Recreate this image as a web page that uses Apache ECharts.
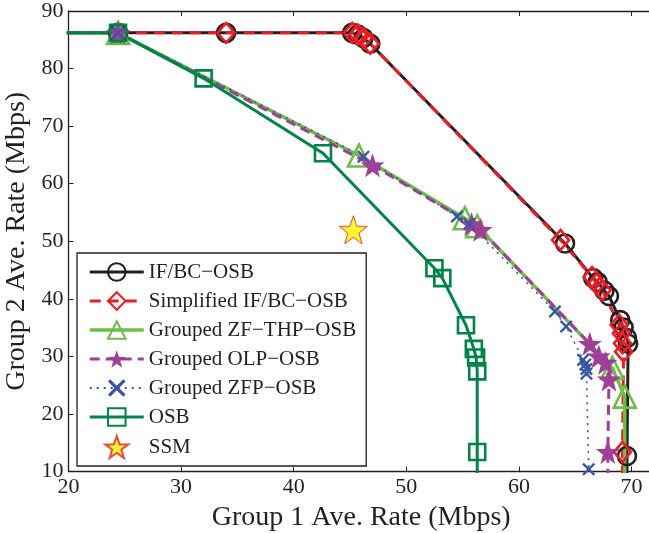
<!DOCTYPE html>
<html>
<head>
<meta charset="utf-8">
<script src="https://cdn.jsdelivr.net/npm/echarts@6/dist/echarts.min.js"></script>
<style>
html,body{margin:0;padding:0;background:#fff;}
#c{width:649px;height:533px;}
</style>
</head>
<body>
<div id="c"></div>
<script>
// ---- data ----
const seriesNames = ['IF/BC\u2212OSB', 'Simplified IF/BC\u2212OSB', 'Grouped ZF\u2212THP\u2212OSB', 'Grouped OLP\u2212OSB', 'Grouped ZFP\u2212OSB', 'OSB', 'SSM'];

const ifbcX = [10, 24.4, 34.0, 45.2, 45.7, 46.2, 46.8, 64.1, 66.6, 67.0, 67.6, 68.0, 69.0, 69.3, 69.6, 69.7, 69.6, 69.6];
const ifbcY = [86.2, 86.2, 86.2, 86.2, 85.9, 85.3, 84.3, 49.6, 43.6, 42.9, 41.4, 40.5, 36.3, 35.0, 33.2, 32.2, 12.7, 0];

const simpX = [10, 24.4, 34.0, 45.2, 45.7, 46.2, 46.8, 63.7, 66.5, 66.9, 67.4, 68.9, 69.1, 69.2, 69.3, 69.2, 69.2];
const simpY = [86.2, 86.2, 86.2, 86.2, 85.9, 85.3, 84.3, 50.2, 43.8, 42.6, 41.5, 35.5, 34.0, 32.3, 30.8, 13.4, 0];

const zfthpX = [10, 24.4, 45.8, 55.2, 56.3, 68.3, 69.4, 69.4];
const zfthpY = [86.2, 86.2, 64.9, 54.0, 52.6, 28.0, 23.0, 0];

const olpX = [10, 24.4, 47.0, 55.8, 56.6, 66.3, 67.1, 67.7, 68.0, 67.9, 67.9];
const olpY = [86.2, 86.2, 63.2, 53.0, 52.0, 32.2, 30.0, 28.9, 26.0, 13.4, 0];

const zfpX = [10, 24.4, 46.2, 54.5, 55.6, 63.2, 64.2, 65.7, 65.9, 66.0, 66.0, 66.2];
const zfpY = [86.2, 86.2, 64.7, 54.3, 53.0, 37.8, 35.2, 29.4, 28.6, 27.8, 27.0, 10.4];

const osbX = [10, 24.4, 32.0, 42.6, 52.5, 53.2, 55.3, 56.0, 56.2, 56.3, 56.3, 56.3];
const osbY = [86.2, 86.2, 78.3, 65.3, 45.3, 43.6, 35.4, 31.3, 29.8, 27.4, 13.4, 0];

const ssmX = [45.3];
const ssmY = [52.0];

const xTicks = [20, 30, 40, 50, 60, 70];
const yTicks = [10, 20, 30, 40, 50, 60, 70, 80, 90];

// ---- helpers ----
function pairs(xs, ys) { return xs.map((x, i) => [x, ys[i]]); }
const FONT = "'Liberation Serif', 'Times New Roman', serif";
const INK = '#231f20';
const STAR = 'path://M10,0 L12.35,6.76 L19.51,6.91 L13.8,11.24 L15.88,18.09 L10,14 L4.12,18.09 L6.2,11.24 L0.49,6.91 L7.65,6.76 Z';
const XMARK = 'path://M0,2.6 L2.6,0 L10,7.4 L17.4,0 L20,2.6 L12.6,10 L20,17.4 L17.4,20 L10,12.6 L2.6,20 L0,17.4 L7.4,10 Z';

const chart = echarts.init(document.getElementById('c'), null, {renderer: 'canvas'});

function lineSeries(name, data, color, lineType, width, symbol, size, filled, borderW) {
  return {
    name: name,
    type: 'line',
    data: data,
    symbol: symbol,
    symbolSize: size,
    showAllSymbol: true,
    clip: true,
    animation: false,
    lineStyle: {color: color, width: width, type: lineType},
    itemStyle: filled
      ? {color: color, borderWidth: 0, opacity: 1}
      : {color: 'rgba(255,255,255,0)', borderColor: color, borderWidth: borderW, opacity: 1},
    emphasis: {disabled: true}
  };
}

const axisCommon = {
  type: 'value',
  splitLine: {show: false},
  axisLine: {show: true, onZero: false, lineStyle: {color: INK, width: 1.3}},
};

const option = {
  backgroundColor: '#fff',
  animation: false,
  grid: {left: 68.5, top: 11, right: -5, bottom: 61.5, containLabel: false, outerBoundsMode: 'none'},
  xAxis: [
    Object.assign({}, axisCommon, {
      min: 20, max: 72, interval: 10, position: 'bottom',
      name: 'Group 1 Ave. Rate (Mbps)', nameLocation: 'middle', nameGap: 30,
      nameTextStyle: {fontFamily: FONT, fontSize: 28, color: INK},
      axisTick: {show: true, inside: true, length: 5, customValues: xTicks, lineStyle: {color: INK, width: 1}},
      axisLabel: {fontFamily: FONT, fontSize: 22, color: INK, margin: 5, customValues: xTicks}
    }),
    Object.assign({}, axisCommon, {
      min: 20, max: 72, interval: 10, position: 'top',
      axisTick: {show: true, inside: true, length: 5, customValues: xTicks, lineStyle: {color: INK, width: 1}},
      axisLabel: {show: false}
    })
  ],
  yAxis: [
    Object.assign({}, axisCommon, {
      min: 10, max: 90, interval: 10, position: 'left',
      name: 'Group 2 Ave. Rate (Mbps)', nameLocation: 'middle', nameGap: 36,
      nameTextStyle: {fontFamily: FONT, fontSize: 28, color: INK},
      axisTick: {show: true, inside: true, length: 5, customValues: yTicks, lineStyle: {color: INK, width: 1}},
      axisLabel: {fontFamily: FONT, fontSize: 22, color: INK, margin: 5, customValues: yTicks}
    }),
    Object.assign({}, axisCommon, {
      min: 10, max: 90, interval: 10, position: 'right',
      axisTick: {show: true, inside: true, length: 5, customValues: yTicks, lineStyle: {color: INK, width: 1}},
      axisLabel: {show: false}
    })
  ],
  legend: {
    orient: 'vertical',
    left: 77, top: 253,
    padding: [8, 10, 7, 11],
    itemWidth: 54, itemHeight: 22, itemGap: 7,
    backgroundColor: '#fff',
    borderColor: INK, borderWidth: 1.3, borderRadius: 0,
    textStyle: {fontFamily: FONT, fontSize: 21, color: INK, lineHeight: 22},
    data: [
      {name: seriesNames[0], lineStyle: {width: 3}},
      {name: seriesNames[1], lineStyle: {width: 3}},
      {name: seriesNames[2], lineStyle: {width: 3.5}},
      {name: seriesNames[3], lineStyle: {width: 3}},
      {name: seriesNames[4], lineStyle: {width: 1.8}},
      {name: seriesNames[5], lineStyle: {width: 3}},
      {name: seriesNames[6]}
    ],
    selectedMode: false
  },
  series: [
    lineSeries(seriesNames[0], pairs(ifbcX, ifbcY), '#231f20', 'solid', 3, 'circle', 18, false, 2.6),
    lineSeries(seriesNames[1], pairs(simpX, simpY), '#ed1c24', [11, 7], 3, 'diamond', [17, 20], false, 2.6),
    lineSeries(seriesNames[2], pairs(zfthpX, zfthpY), '#6dbe45', 'solid', 3.5, 'triangle', 22, false, 2.6),
    lineSeries(seriesNames[3], pairs(olpX, olpY), '#a03f98', [10, 6], 3, STAR, 24, true, 0),
    lineSeries(seriesNames[4], pairs(zfpX, zfpY), '#3a55a5', [2, 5], 1.6, XMARK, 13, true, 0),
    lineSeries(seriesNames[5], pairs(osbX, osbY), '#00844a', 'solid', 3, 'rect', 16, false, 2.6),
    {
      name: seriesNames[6],
      type: 'scatter',
      data: pairs(ssmX, ssmY),
      symbol: STAR,
      symbolSize: 28,
      animation: false,
      itemStyle: {color: '#fff200', borderColor: '#ed1c24', borderWidth: 1},
      emphasis: {disabled: true}
    }
  ]
};
chart.setOption(option);
</script>
</body>
</html>
